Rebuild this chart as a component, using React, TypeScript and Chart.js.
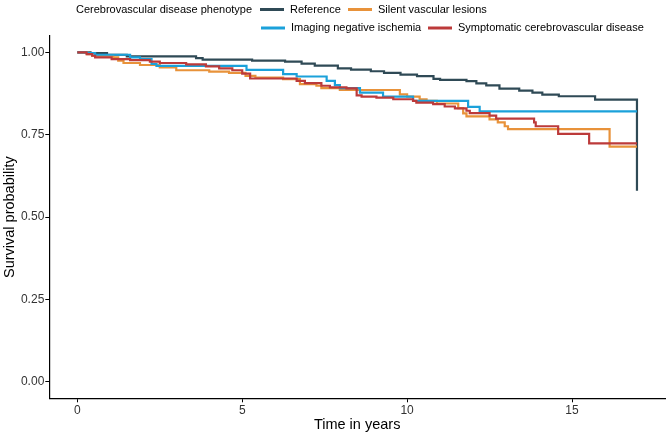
import React, { useEffect, useRef } from "react";
import { Chart, registerables } from "chart.js";

Chart.register(...registerables);

const FONT = "'Liberation Sans', Arial, sans-serif";

const LEGEND_TITLE = "Cerebrovascular disease phenotype";
const SERIES_NAMES = [
  "Reference",
  "Silent vascular lesions",
  "Imaging negative ischemia",
  "Symptomatic cerebrovascular disease",
];
const SERIES_COLORS = ["#2F4A56", "#E8923A", "#1BA1DA", "#BC3A3A"];

const X_TICKS = [0, 5, 10, 15];
const Y_TICKS = [0, 0.25, 0.5, 0.75, 1];

// Reference
const refTimes = [0, 0.4, 0.9, 1.5, 3.6, 3.8, 5.3, 6.3, 6.8, 7.2, 7.9, 8.3, 8.9, 9.3, 9.8, 10.3, 10.8, 11.0, 11.8, 12.1, 12.4, 12.8, 13.4, 13.8, 14.1, 14.6, 15.7, 16.97];
const refSurv = [1.0, 0.998, 0.993, 0.988, 0.983, 0.978, 0.975, 0.972, 0.966, 0.96, 0.952, 0.948, 0.943, 0.938, 0.933, 0.928, 0.92, 0.917, 0.913, 0.906, 0.9, 0.89, 0.884, 0.878, 0.872, 0.867, 0.857, 0.58];

// Silent vascular lesions
const silTimes = [0, 0.3, 0.45, 1.09, 1.24, 1.4, 1.9, 2.5, 3.0, 4.0, 4.6, 5.1, 5.4, 6.24, 6.75, 7.25, 7.4, 7.96, 9.78, 10.0, 10.38, 10.59, 10.9, 11.55, 11.7, 11.8, 12.5, 12.75, 12.96, 13.06, 16.14, 16.97];
const silSurv = [1.0, 0.995, 0.99, 0.985, 0.975, 0.968, 0.962, 0.955, 0.946, 0.942, 0.938, 0.929, 0.924, 0.919, 0.904, 0.899, 0.892, 0.886, 0.873, 0.866, 0.858, 0.853, 0.845, 0.831, 0.815, 0.806, 0.797, 0.788, 0.776, 0.767, 0.714, 0.714];

// Imaging negative ischemia
const imgTimes = [0, 0.3, 0.54, 1.6, 1.9, 2.25, 2.4, 5.13, 6.24, 6.65, 7.56, 7.81, 7.96, 8.57, 9.27, 10.18, 11.85, 12.2, 16.97];
const imgSurv = [1.0, 0.998, 0.993, 0.985, 0.98, 0.965, 0.959, 0.947, 0.934, 0.927, 0.914, 0.901, 0.892, 0.878, 0.866, 0.853, 0.835, 0.821, 0.821];

// Symptomatic cerebrovascular disease
const symTimes = [0, 0.28, 0.45, 0.54, 1.04, 1.6, 2.2, 2.5, 3.3, 3.9, 4.3, 4.7, 5.0, 5.24, 6.65, 6.9, 7.4, 7.66, 8.16, 8.47, 8.62, 9.07, 9.58, 10.18, 10.28, 10.79, 11.14, 11.45, 11.8, 11.9, 12.5, 12.7, 13.85, 13.9, 14.58, 15.52, 16.97];
const symSurv = [1.0, 0.995, 0.99, 0.985, 0.98, 0.977, 0.972, 0.968, 0.964, 0.958, 0.952, 0.946, 0.936, 0.921, 0.914, 0.907, 0.899, 0.894, 0.891, 0.87, 0.866, 0.863, 0.858, 0.853, 0.848, 0.843, 0.836, 0.83, 0.823, 0.816, 0.808, 0.799, 0.788, 0.776, 0.753, 0.724, 0.724];

const SERIES_TIMES = [refTimes, silTimes, imgTimes, symTimes];
const SERIES_SURV = [refSurv, silSurv, imgSurv, symSurv];

// legend layout (row, key x start, text x)
const LEGEND_ITEMS = [
  { row: 0, keyX: 260, textX: 290 },
  { row: 0, keyX: 348, textX: 378 },
  { row: 1, keyX: 261, textX: 291 },
  { row: 1, keyX: 428, textX: 458 },
];
const LEGEND_ROWS_Y = [9.5, 28];

const legendPlugin = {
  id: "ggLegend",
  afterDraw(chart: any) {
    const ctx = chart.ctx;
    ctx.save();
    ctx.font = `11px ${FONT}`;
    ctx.textBaseline = "middle";
    ctx.textAlign = "left";
    ctx.fillStyle = "#000";
    ctx.fillText(LEGEND_TITLE, 76, LEGEND_ROWS_Y[0]);
    LEGEND_ITEMS.forEach((it, i) => {
      const y = LEGEND_ROWS_Y[it.row];
      ctx.strokeStyle = SERIES_COLORS[i];
      ctx.lineWidth = 3;
      ctx.beginPath();
      ctx.moveTo(it.keyX, y);
      ctx.lineTo(it.keyX + 24, y);
      ctx.stroke();
      ctx.fillStyle = "#000";
      ctx.fillText(SERIES_NAMES[i], it.textX, y);
    });
    ctx.restore();
  },
};

export default function App() {
  const ref = useRef<HTMLCanvasElement | null>(null);
  useEffect(() => {
    document.body.style.margin = "0";
    const canvas = ref.current!;
    const datasets = SERIES_NAMES.map((name, i) => ({
      label: name,
      data: SERIES_TIMES[i].map((t, j) => ({ x: t, y: SERIES_SURV[i][j] })),
      borderColor: SERIES_COLORS[i],
      backgroundColor: SERIES_COLORS[i],
      borderWidth: 2.2,
      stepped: true as any,
      pointRadius: 0,
      fill: false,
      order: 3 - i,
    }));
    const axisCommon = {
      grid: {
        display: true,
        drawOnChartArea: false,
        drawTicks: true,
        tickLength: 4,
        color: "#000",
        lineWidth: 1,
      },
      border: { display: true, color: "#000", width: 1.2 },
    };
    const chart = new Chart(canvas, {
      type: "line",
      data: { datasets },
      options: {
        animation: false,
        responsive: false,
        devicePixelRatio: 1,
        layout: { padding: { top: 36, right: 3, left: 0, bottom: 0 } },
        plugins: { legend: { display: false }, tooltip: { enabled: false } },
        scales: {
          x: {
            type: "linear",
            min: -0.85,
            max: 17.82,
            afterBuildTicks: (s: any) => {
              s.ticks = X_TICKS.map((v) => ({ value: v }));
            },
            afterFit: (s: any) => {
              s.height = 37.7;
            },
            ...axisCommon,
            ticks: {
              font: { family: FONT, size: 12 },
              color: "#333",
              padding: 1,
              maxRotation: 0,
              autoSkip: false,
              callback: (v: any) => String(v),
            },
            title: {
              display: true,
              text: "Time in years",
              font: { family: FONT, size: 14.5 },
              color: "#000",
              padding: { top: 0, bottom: 2.3 },
            },
          },
          y: {
            type: "linear",
            min: -0.05,
            max: 1.05,
            afterBuildTicks: (s: any) => {
              s.ticks = Y_TICKS.map((v) => ({ value: v }));
            },
            afterFit: (s: any) => {
              s.width = 49.3;
            },
            ...axisCommon,
            ticks: {
              font: { family: FONT, size: 12 },
              color: "#333",
              padding: 1,
              autoSkip: false,
              callback: (v: any) => Number(v).toFixed(2),
            },
            title: {
              display: true,
              text: "Survival probability",
              font: { family: FONT, size: 14.5 },
              color: "#000",
              padding: { top: 1.3, bottom: 0 },
            },
          },
        },
      } as any,
      plugins: [legendPlugin],
    });
    return () => chart.destroy();
  }, []);
  return (
    <div style={{ position: "fixed", left: 0, top: 0, width: 668, height: 436, background: "#fff" }}>
      <canvas ref={ref} width={668} height={436} style={{ width: 668, height: 436, display: "block" }} />
    </div>
  );
}
